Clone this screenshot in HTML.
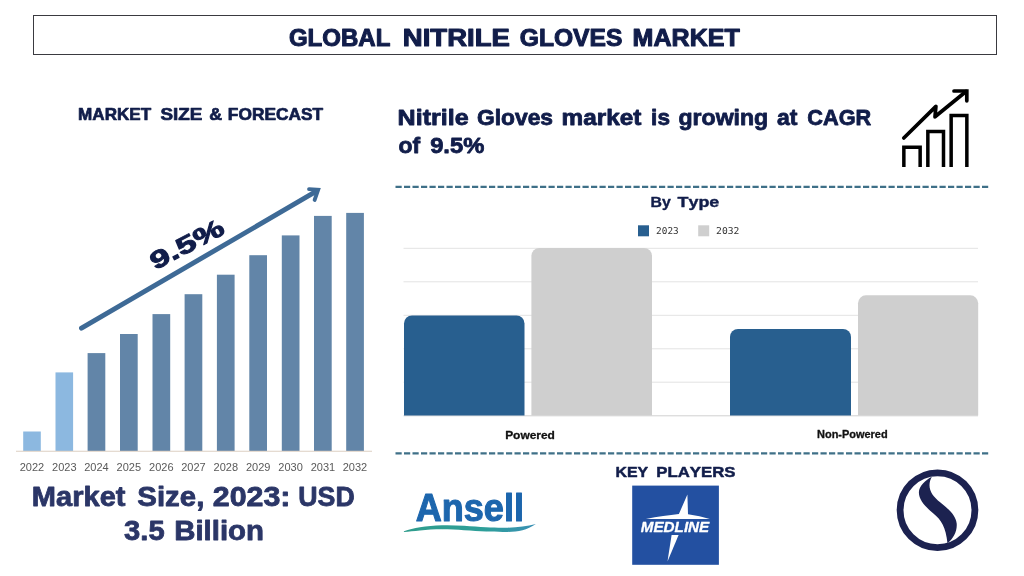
<!DOCTYPE html>
<html lang="en">
<head>
<meta charset="utf-8">
<title>Global Nitrile Gloves Market</title>
<style>
  html, body { margin: 0; padding: 0; background: #ffffff; }
  body { width: 1024px; height: 576px; overflow: hidden; font-family: "Liberation Sans", sans-serif; }
  svg { display: block; }
  text { font-family: "Liberation Sans", sans-serif; font-kerning: none; }
  .b { font-weight: 700; }
  .navy { fill: #111d4a; stroke: #111d4a; stroke-linejoin: round; }
  .w7 { stroke-width: 0.7px; } .w6 { stroke-width: 0.6px; } .w5 { stroke-width: 0.5px; } .w4 { stroke-width: 0.4px; }
  .yr { font-size: 11px; fill: #595959; }
  .mono { font-family: "DejaVu Sans Mono", "Liberation Mono", monospace; font-size: 9px; fill: #333333; }
</style>
</head>
<body>
<svg width="1024" height="576" viewBox="0 0 1024 576">
  <defs><linearGradient id="sw" x1="0" y1="0" x2="1" y2="0"><stop offset="0" stop-color="#2f9c8c"/><stop offset="0.6" stop-color="#2d9f99"/><stop offset="1" stop-color="#3a8fb5"/></linearGradient></defs>
  <rect x="0" y="0" width="1024" height="576" fill="#ffffff"/>

  <!-- ===== Title bar ===== -->
  <rect x="33.5" y="15.5" width="963" height="39" fill="#ffffff" stroke="#3a3a40" stroke-width="1"/>

  <!-- ===== Left: Market size & forecast ===== -->

  <g id="leftbars">
    <rect x="23.2" y="431.5" width="17.6" height="19.5" fill="#8cb8e0"/>
    <rect x="55.5" y="372.4" width="17.6" height="78.6" fill="#8cb8e0"/>
    <rect x="87.6" y="353.1" width="17.7" height="97.9" fill="#6285a8"/>
    <rect x="120" y="334" width="17.7" height="117" fill="#6285a8"/>
    <rect x="152.5" y="314.1" width="17.7" height="136.9" fill="#6285a8"/>
    <rect x="184.6" y="294.2" width="17.7" height="156.8" fill="#6285a8"/>
    <rect x="216.9" y="274.7" width="17.7" height="176.3" fill="#6285a8"/>
    <rect x="249.3" y="255.2" width="17.7" height="195.8" fill="#6285a8"/>
    <rect x="281.8" y="235.4" width="17.7" height="215.6" fill="#6285a8"/>
    <rect x="314" y="215.9" width="17.7" height="235.1" fill="#6285a8"/>
    <rect x="346.2" y="212.9" width="17.7" height="238.1" fill="#6285a8"/>
  </g>
  <line x1="16" y1="451.2" x2="372" y2="451.2" stroke="#dccfc2" stroke-width="1.1"/>

  <g class="yr" text-anchor="middle">
    <text x="32" y="471.4">2022</text>
    <text x="64.3" y="471.4">2023</text>
    <text x="96.5" y="471.4">2024</text>
    <text x="128.8" y="471.4">2025</text>
    <text x="161.3" y="471.4">2026</text>
    <text x="193.5" y="471.4">2027</text>
    <text x="225.8" y="471.4">2028</text>
    <text x="258.2" y="471.4">2029</text>
    <text x="290.6" y="471.4">2030</text>
    <text x="322.9" y="471.4">2031</text>
    <text x="355" y="471.4">2032</text>
  </g>

  <!-- growth arrow -->
  <g stroke="#3e6a96" stroke-width="4.9" fill="none" stroke-linecap="round" stroke-linejoin="miter">
    <line x1="81.5" y1="328.2" x2="316.5" y2="191.2"/>
    <polyline points="309,189.2 318.2,189.7 314.6,200" stroke-width="3.8"/>
  </g>


  <!-- ===== Right: headline ===== -->

  <!-- growth icon -->
  <g stroke="#000000" stroke-width="3.5" fill="none" stroke-linejoin="miter" stroke-linecap="butt">
    <polyline points="903.85,167 903.85,147.15 920.15,147.15 920.15,167"/>
    <polyline points="927.85,167 927.85,131.55 943.5,131.55 943.5,167"/>
    <polyline points="951.15,167 951.15,115.5 966.85,115.5 966.85,167"/>
  </g>
  <g stroke="#000000" stroke-width="3.7" fill="none" stroke-linejoin="miter" stroke-linecap="round">
    <polyline points="903.8,138 935.9,106.4 935,116.8 966,91.5" stroke-linejoin="round"/>
    <polyline points="954,91 966.8,91 966.8,100.8"/>
  </g>

  <!-- dashed separators -->
  <line x1="395.5" y1="186.9" x2="988.3" y2="186.9" stroke="#3f7088" stroke-width="2.2" stroke-dasharray="6.2 2.3"/>
  <line x1="395.5" y1="453.3" x2="988.3" y2="453.3" stroke="#3f7088" stroke-width="2.2" stroke-dasharray="6.2 2.3"/>

  <!-- ===== By Type chart ===== -->
  <rect x="638" y="225.3" width="11" height="11" fill="#285f8f"/>
  <rect x="698.2" y="225.3" width="11" height="11" fill="#cfcfcf"/>

  <g stroke="#e3e3e3" stroke-width="1">
    <line x1="403.5" y1="248.3" x2="978" y2="248.3"/>
    <line x1="403.5" y1="281.8" x2="978" y2="281.8"/>
    <line x1="403.5" y1="315.3" x2="978" y2="315.3"/>
    <line x1="403.5" y1="348.8" x2="978" y2="348.8"/>
    <line x1="403.5" y1="382.2" x2="978" y2="382.2"/>
  </g>
  <line x1="403.5" y1="415.8" x2="978" y2="415.8" stroke="#d0d0d0" stroke-width="1"/>

  <path fill="#285f8f" d="M404 415.6 V323.5 a8 8 0 0 1 8 -8 H516.5 a8 8 0 0 1 8 8 V415.6 Z"/>
  <path fill="#cfcfcf" d="M531.4 415.6 V256 a8 8 0 0 1 8 -8 H644 a8 8 0 0 1 8 8 V415.6 Z"/>
  <path fill="#285f8f" d="M730 415.6 V337 a8 8 0 0 1 8 -8 H843 a8 8 0 0 1 8 8 V415.6 Z"/>
  <path fill="#cfcfcf" d="M858 415.6 V303.3 a8 8 0 0 1 8 -8 H970.2 a8 8 0 0 1 8 8 V415.6 Z"/>


  <!-- ===== Key players ===== -->

  <!-- Ansell -->
  <path fill="url(#sw)" d="M403.9 531.3 C409 529.4 414 528.2 420 527.3 C427 526.2 434 525.5 442 525.3 C450 525.1 457 525.4 464 525.8 C472 526.3 479 526.9 486 527.3 C494 527.7 501 527.9 508 527.7 C513 527.5 518 527.1 522.5 526.5 C527 525.8 531.5 524.9 535.9 523.9 C531.5 526.9 527 529 522.5 530.2 C518 531.3 513 531.8 508 531.9 C501 532 494 531.9 486 531.6 C479 531.2 472 530.6 464 530.2 C457 529.8 450 529.4 442 529.3 C434 529.3 427 529.8 420 530.4 C414 531 409 531.6 403.9 531.9 Z"/>

  <!-- Medline -->
  <rect x="632.2" y="485.6" width="86.7" height="79.2" fill="#2350a1"/>
  <path fill="#ffffff" d="M645.9 518.9 Q664 515.6 678.9 514 L687.4 494.6 L688 514.2 Q700 515.8 709.8 518.9 Z"/>
  <path fill="#ffffff" d="M671.6 535 L678.6 535 L667.5 561.4 Z"/>

  <!-- Circle S logo -->
  <circle cx="937.5" cy="510.2" r="37.4" fill="none" stroke="#1c2250" stroke-width="6.8"/>
  <g transform="translate(892,465) scale(0.15625)">
    <path fill="#1c2250" d="M255 75 C215 95 172 135 172 175 C172 225 215 270 265 310 C315 350 345 400 355 500 C395 470 418 420 414 375 C408 320 360 280 310 240 C265 205 240 170 240 130 C240 110 246 90 255 75 Z"/>
  </g>
  <!-- ===== Text ===== -->
  <text x="288.91" y="45.6" font-size="23.2" fill="#111d4a" stroke="#111d4a" stroke-width="1.0" stroke-linejoin="round" style="font-weight:700;" textLength="101.42" lengthAdjust="spacingAndGlyphs">GLOBAL</text>
  <text x="402.86" y="45.6" font-size="23.2" fill="#111d4a" stroke="#111d4a" stroke-width="1.0" stroke-linejoin="round" style="font-weight:700;" textLength="106.91" lengthAdjust="spacingAndGlyphs">NITRILE</text>
  <text x="519.79" y="45.6" font-size="23.2" fill="#111d4a" stroke="#111d4a" stroke-width="1.0" stroke-linejoin="round" style="font-weight:700;" textLength="102.57" lengthAdjust="spacingAndGlyphs">GLOVES</text>
  <text x="632.62" y="45.6" font-size="23.2" fill="#111d4a" stroke="#111d4a" stroke-width="1.0" stroke-linejoin="round" style="font-weight:700;" textLength="107.14" lengthAdjust="spacingAndGlyphs">MARKET</text>
  <text x="78.11" y="119.7" font-size="16.4" fill="#111d4a" stroke="#111d4a" stroke-width="0.7" stroke-linejoin="round" style="font-weight:700;" textLength="73.03" lengthAdjust="spacingAndGlyphs">MARKET</text>
  <text x="160.51" y="119.7" font-size="16.4" fill="#111d4a" stroke="#111d4a" stroke-width="0.7" stroke-linejoin="round" style="font-weight:700;" textLength="41.88" lengthAdjust="spacingAndGlyphs">SIZE</text>
  <text x="209.27" y="119.7" font-size="16.4" fill="#111d4a" stroke="#111d4a" stroke-width="0.7" stroke-linejoin="round" style="font-weight:700;" textLength="12.84" lengthAdjust="spacingAndGlyphs">&amp;</text>
  <text x="227.89" y="119.7" font-size="16.4" fill="#111d4a" stroke="#111d4a" stroke-width="0.7" stroke-linejoin="round" style="font-weight:700;" textLength="95.14" lengthAdjust="spacingAndGlyphs">FORECAST</text>
  <text x="397.62" y="124.7" font-size="21.6" fill="#111d4a" stroke="#111d4a" stroke-width="0.8" stroke-linejoin="round" style="font-weight:700;" textLength="71.03" lengthAdjust="spacingAndGlyphs">Nitrile</text>
  <text x="477.07" y="124.7" font-size="21.6" fill="#111d4a" stroke="#111d4a" stroke-width="0.8" stroke-linejoin="round" style="font-weight:700;" textLength="75.97" lengthAdjust="spacingAndGlyphs">Gloves</text>
  <text x="561.50" y="124.7" font-size="21.6" fill="#111d4a" stroke="#111d4a" stroke-width="0.8" stroke-linejoin="round" style="font-weight:700;" textLength="79.80" lengthAdjust="spacingAndGlyphs">market</text>
  <text x="651.13" y="124.7" font-size="21.6" fill="#111d4a" stroke="#111d4a" stroke-width="0.8" stroke-linejoin="round" style="font-weight:700;" textLength="18.80" lengthAdjust="spacingAndGlyphs">is</text>
  <text x="678.45" y="124.7" font-size="21.6" fill="#111d4a" stroke="#111d4a" stroke-width="0.8" stroke-linejoin="round" style="font-weight:700;" textLength="89.79" lengthAdjust="spacingAndGlyphs">growing</text>
  <text x="777.03" y="124.7" font-size="21.6" fill="#111d4a" stroke="#111d4a" stroke-width="0.8" stroke-linejoin="round" style="font-weight:700;" textLength="20.45" lengthAdjust="spacingAndGlyphs">at</text>
  <text x="807.31" y="124.7" font-size="21.6" fill="#111d4a" stroke="#111d4a" stroke-width="0.8" stroke-linejoin="round" style="font-weight:700;" textLength="63.94" lengthAdjust="spacingAndGlyphs">CAGR</text>
  <text x="398.40" y="153.2" font-size="21.6" fill="#111d4a" stroke="#111d4a" stroke-width="0.8" stroke-linejoin="round" style="font-weight:700;" textLength="21.65" lengthAdjust="spacingAndGlyphs">of</text>
  <text x="430.18" y="153.2" font-size="21.6" fill="#111d4a" stroke="#111d4a" stroke-width="0.8" stroke-linejoin="round" style="font-weight:700;" textLength="54.05" lengthAdjust="spacingAndGlyphs">9.5%</text>
  <text x="31.86" y="506" font-size="27.4" fill="#2b3667" stroke="#2b3667" stroke-width="0.8" stroke-linejoin="round" style="font-weight:700;" textLength="93.60" lengthAdjust="spacingAndGlyphs">Market</text>
  <text x="137.35" y="506" font-size="27.4" fill="#2b3667" stroke="#2b3667" stroke-width="0.8" stroke-linejoin="round" style="font-weight:700;" textLength="67.01" lengthAdjust="spacingAndGlyphs">Size,</text>
  <text x="212.75" y="506" font-size="27.4" fill="#2b3667" stroke="#2b3667" stroke-width="0.8" stroke-linejoin="round" style="font-weight:700;" textLength="77.67" lengthAdjust="spacingAndGlyphs">2023:</text>
  <text x="298.29" y="506" font-size="27.4" fill="#2b3667" stroke="#2b3667" stroke-width="0.8" stroke-linejoin="round" style="font-weight:700;" textLength="56.43" lengthAdjust="spacingAndGlyphs">USD</text>
  <text x="124.13" y="540" font-size="27.4" fill="#2b3667" stroke="#2b3667" stroke-width="0.8" stroke-linejoin="round" style="font-weight:700;" textLength="40.48" lengthAdjust="spacingAndGlyphs">3.5</text>
  <text x="174.23" y="540" font-size="27.4" fill="#2b3667" stroke="#2b3667" stroke-width="0.8" stroke-linejoin="round" style="font-weight:700;" textLength="89.79" lengthAdjust="spacingAndGlyphs">Billion</text>
  <text x="650.54" y="207.3" font-size="15.2" fill="#111d4a" stroke="#111d4a" stroke-width="0.4" stroke-linejoin="round" style="font-weight:700;" textLength="20.24" lengthAdjust="spacingAndGlyphs">By</text>
  <text x="677.50" y="207.3" font-size="15.2" fill="#111d4a" stroke="#111d4a" stroke-width="0.4" stroke-linejoin="round" style="font-weight:700;" textLength="41.81" lengthAdjust="spacingAndGlyphs">Type</text>
  <text x="615.49" y="476.5" font-size="15.4" fill="#111d4a" stroke="#111d4a" stroke-width="0.5" stroke-linejoin="round" style="font-weight:700;" textLength="32.62" lengthAdjust="spacingAndGlyphs">KEY</text>
  <text x="656.33" y="476.5" font-size="15.4" fill="#111d4a" stroke="#111d4a" stroke-width="0.5" stroke-linejoin="round" style="font-weight:700;" textLength="79.07" lengthAdjust="spacingAndGlyphs">PLAYERS</text>
  <text x="505.15" y="438.5" font-size="10.9" fill="#111111" stroke="#111111" stroke-width="0.3" stroke-linejoin="round" style="font-weight:700;" textLength="49.79" lengthAdjust="spacingAndGlyphs">Powered</text>
  <text x="817.02" y="437.5" font-size="10.2" fill="#111111" stroke="#111111" stroke-width="0.3" stroke-linejoin="round" style="font-weight:700;" textLength="70.66" lengthAdjust="spacingAndGlyphs">Non-Powered</text>
  <text x="656.10" y="234.2" font-size="9" fill="#333333" style="font-family:'DejaVu Sans Mono','Liberation Mono',monospace;" textLength="22.60" lengthAdjust="spacingAndGlyphs">2023</text>
  <text x="716.08" y="234.2" font-size="9" fill="#333333" style="font-family:'DejaVu Sans Mono','Liberation Mono',monospace;" textLength="23.34" lengthAdjust="spacingAndGlyphs">2032</text>
  <text x="415.65" y="521.3" font-size="39.6" fill="#1d66ad" stroke="#1d66ad" stroke-width="1.1" stroke-linejoin="round" style="font-weight:700;" textLength="108.36" lengthAdjust="spacingAndGlyphs">Ansell</text>
  <text x="640.78" y="532.2" font-size="14.2" fill="#ffffff" stroke="#ffffff" stroke-width="0.3" stroke-linejoin="round" style="font-weight:700;font-style:italic;" textLength="68.49" lengthAdjust="spacingAndGlyphs">MEDLINE</text>
  <text x="-0.72" y="0" font-size="24.5" fill="#111d4a" stroke="#111d4a" stroke-width="1.0" stroke-linejoin="round" style="font-weight:700;" textLength="80.15" lengthAdjust="spacingAndGlyphs" transform="translate(155.8,269.8) rotate(-27.5)">9.5%</text>
</svg>
</body>
</html>
